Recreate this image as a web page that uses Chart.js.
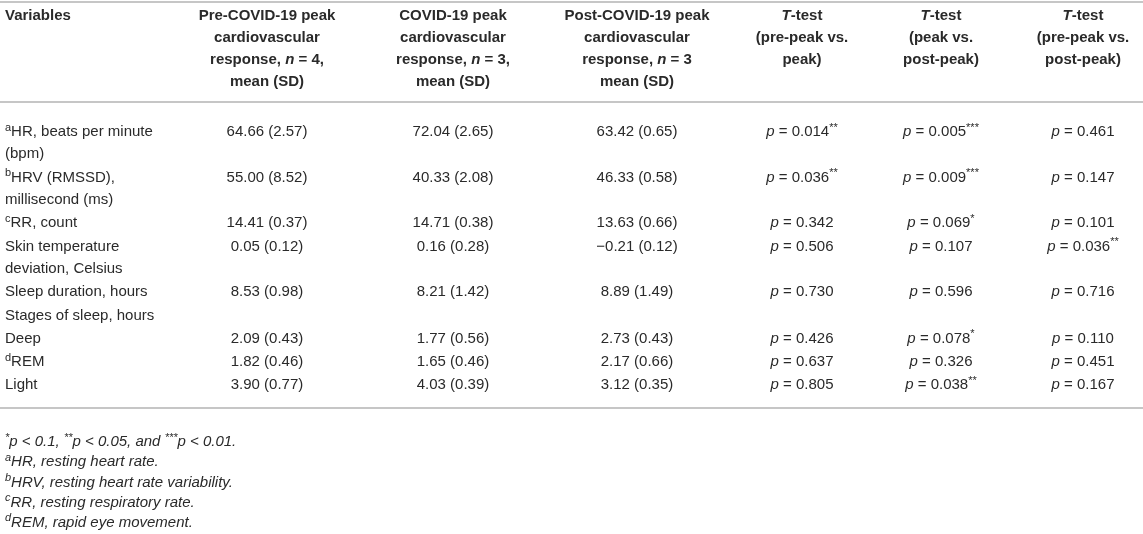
<!DOCTYPE html>
<html>
<head>
<meta charset="utf-8">
<script src="https://cdn.jsdelivr.net/npm/chart.js@4.4.1/dist/chart.umd.min.js"></script>
<style>
  html, body { margin: 0; padding: 0; background: #ffffff; }
  #wrap { width: 1143px; height: 534px; }
</style>
</head>
<body>
<div id="wrap"><canvas id="c" width="1143" height="534"></canvas></div>
<script>
// ---------------- DATA ----------------
const headers = [
  ["Variables"],
  ["Pre-COVID-19 peak", "cardiovascular", "response, <i>n</i> = 4,", "mean (SD)"],
  ["COVID-19 peak", "cardiovascular", "response, <i>n</i> = 3,", "mean (SD)"],
  ["Post-COVID-19 peak", "cardiovascular", "response, <i>n</i> = 3", "mean (SD)"],
  ["<i>T</i>-test", "(pre-peak vs.", "peak)"],
  ["<i>T</i>-test", "(peak vs.", "post-peak)"],
  ["<i>T</i>-test", "(pre-peak vs.", "post-peak)"]
];
const variables = [
  ["<sup>a</sup>HR, beats per minute", "(bpm)"],
  ["<sup>b</sup>HRV (RMSSD),", "millisecond (ms)"],
  ["<sup>c</sup>RR, count"],
  ["Skin temperature", "deviation, Celsius"],
  ["Sleep duration, hours"],
  ["Stages of sleep, hours"],
  ["Deep"],
  ["<sup>d</sup>REM"],
  ["Light"]
];
const preMean  = [64.66, 55.00, 14.41, 0.05, 8.53, null, 2.09, 1.82, 3.90];
const preSD    = [2.57, 8.52, 0.37, 0.12, 0.98, null, 0.43, 0.46, 0.77];
const peakMean = [72.04, 40.33, 14.71, 0.16, 8.21, null, 1.77, 1.65, 4.03];
const peakSD   = [2.65, 2.08, 0.38, 0.28, 1.42, null, 0.56, 0.46, 0.39];
const postMean = [63.42, 46.33, 13.63, -0.21, 8.89, null, 2.73, 2.17, 3.12];
const postSD   = [0.65, 0.58, 0.66, 0.12, 1.49, null, 0.43, 0.66, 0.35];
const pPrePeak  = [0.014, 0.036, 0.342, 0.506, 0.730, null, 0.426, 0.637, 0.805];
const pPeakPost = [0.005, 0.009, 0.069, 0.107, 0.596, null, 0.078, 0.326, 0.038];
const pPrePost  = [0.461, 0.147, 0.101, 0.036, 0.716, null, 0.110, 0.451, 0.167];
const footnotes = [
  "<sup>*</sup>p < 0.1, <sup>**</sup>p < 0.05, and <sup>***</sup>p < 0.01.",
  "<sup>a</sup>HR, resting heart rate.",
  "<sup>b</sup>HRV, resting heart rate variability.",
  "<sup>c</sup>RR, resting respiratory rate.",
  "<sup>d</sup>REM, rapid eye movement."
];

// ---------------- LAYOUT (scale units) ----------------
const FONT = '"Liberation Sans", Arial, Helvetica, sans-serif';
const BODY = 15, FOOT = 15;
const colX = [5, 267, 453, 637, 802, 941, 1083];
const headerY0 = 15.5, headerPitch = 22;
const rulesY = [2, 102, 408];
const rowY0 = 132, linePitch = 22.3, rowExtra = 1;
const footY0 = 442, footPitch = 20.2;
const TEXT = '#2a2a2a', RULE = '#c6c6c6';

// row y positions
const rowY = [];
(function () { let y = rowY0; variables.forEach(v => { rowY.push(y); y += v.length * linePitch + rowExtra; }); })();

function fmtNum(v) { const s = Math.abs(v).toFixed(2); return v < 0 ? '\u2212' + s : s; }
function fmtMeanSD(m, sd) { return m === null ? null : fmtNum(m) + ' (' + sd.toFixed(2) + ')'; }
function stars(p) { return p < 0.01 ? '***' : p < 0.05 ? '**' : p < 0.1 ? '*' : ''; }
function fmtP(p) { if (p === null) return null; const st = stars(p); return '<i>p</i> = ' + p.toFixed(3) + (st ? '<sup>' + st + '</sup>' : ''); }

const columnsText = [
  variables.map(v => v),
  preMean.map((m, i) => fmtMeanSD(m, preSD[i])),
  peakMean.map((m, i) => fmtMeanSD(m, peakSD[i])),
  postMean.map((m, i) => fmtMeanSD(m, postSD[i])),
  pPrePeak.map(fmtP),
  pPeakPost.map(fmtP),
  pPrePost.map(fmtP)
];

// ---------------- RICH TEXT ----------------
function parse(str, base) {
  const out = []; let it = !!base.i, b = !!base.b, sup = false;
  str.split(/(<\/?(?:i|b|sup)>)/).forEach(tok => {
    if (tok === '<i>') it = true; else if (tok === '</i>') it = !!base.i;
    else if (tok === '<b>') b = true; else if (tok === '</b>') b = !!base.b;
    else if (tok === '<sup>') sup = true; else if (tok === '</sup>') sup = false;
    else if (tok) out.push({ t: tok, i: it, b: b, sup: sup });
  });
  return out;
}
function fontOf(s, size) { return (s.i ? 'italic ' : '') + (s.b ? 'bold ' : '') + (s.sup ? Math.round(size * 0.7) : size) + 'px ' + FONT; }
function drawRich(ctx, str, x, y, align, size, base) {
  const segs = parse(str, base);
  let w = 0;
  segs.forEach(s => { ctx.font = fontOf(s, size); s.w = ctx.measureText(s.t).width; w += s.w; });
  let cx = align === 'center' ? x - w / 2 : x;
  ctx.textAlign = 'left'; ctx.textBaseline = 'middle';
  segs.forEach(s => {
    ctx.font = fontOf(s, size);
    ctx.fillText(s.t, cx, s.sup ? y - size * 0.3 : y);
    cx += s.w;
  });
}

// ---------------- DATASETS (one per table column) ----------------
const datasets = columnsText.map((col, c) => {
  const idx = col.map((t, r) => r).filter(r => col[r] !== null);
  return {
    label: c === 0 ? 'Variables' : headers[c].join(' '),
    data: idx.map(r => ({ x: colX[c], y: rowY[r] })),
    cellText: idx.map(r => col[r]),
    pointRadius: 0, pointHoverRadius: 0, showLine: false
  };
});

const tablePlugin = {
  id: 'tablePlugin',
  afterDatasetsDraw(chart) {
    const ctx = chart.ctx, xs = chart.scales.x, ys = chart.scales.y;
    ctx.save();
    // rules
    ctx.strokeStyle = RULE; ctx.lineWidth = 2;
    rulesY.forEach(v => {
      const py = ys.getPixelForValue(v);
      ctx.beginPath(); ctx.moveTo(xs.getPixelForValue(0), py); ctx.lineTo(xs.getPixelForValue(1143), py); ctx.stroke();
    });
    ctx.fillStyle = TEXT;
    // headers
    headers.forEach((lines, c) => {
      lines.forEach((ln, k) => {
        drawRich(ctx, ln, xs.getPixelForValue(colX[c]), ys.getPixelForValue(headerY0 + k * headerPitch),
          c === 0 ? 'left' : 'center', BODY, { b: true });
      });
    });
    // cells
    const dy = ys.getPixelForValue(linePitch) - ys.getPixelForValue(0);
    chart.data.datasets.forEach((ds, c) => {
      const meta = chart.getDatasetMeta(c);
      meta.data.forEach((el, r) => {
        const txt = ds.cellText[r];
        const lines = Array.isArray(txt) ? txt : [txt];
        lines.forEach((ln, k) => {
          drawRich(ctx, ln, el.x, el.y + k * dy, c === 0 ? 'left' : 'center', BODY, {});
        });
      });
    });
    // footnotes
    footnotes.forEach((f, k) => {
      drawRich(ctx, f, xs.getPixelForValue(colX[0]), ys.getPixelForValue(footY0 + k * footPitch), 'left', FOOT, { i: true });
    });
    ctx.restore();
  }
};

new Chart(document.getElementById('c'), {
  type: 'scatter',
  data: { datasets },
  options: {
    responsive: false,
    animation: false,
    layout: { padding: 0 },
    plugins: { legend: { display: false }, tooltip: { enabled: false } },
    events: [],
    scales: {
      x: { type: 'linear', min: 0, max: 1143, display: false },
      y: { type: 'linear', min: 0, max: 534, reverse: true, display: false }
    }
  },
  plugins: [tablePlugin]
});
</script>
</body>
</html>
